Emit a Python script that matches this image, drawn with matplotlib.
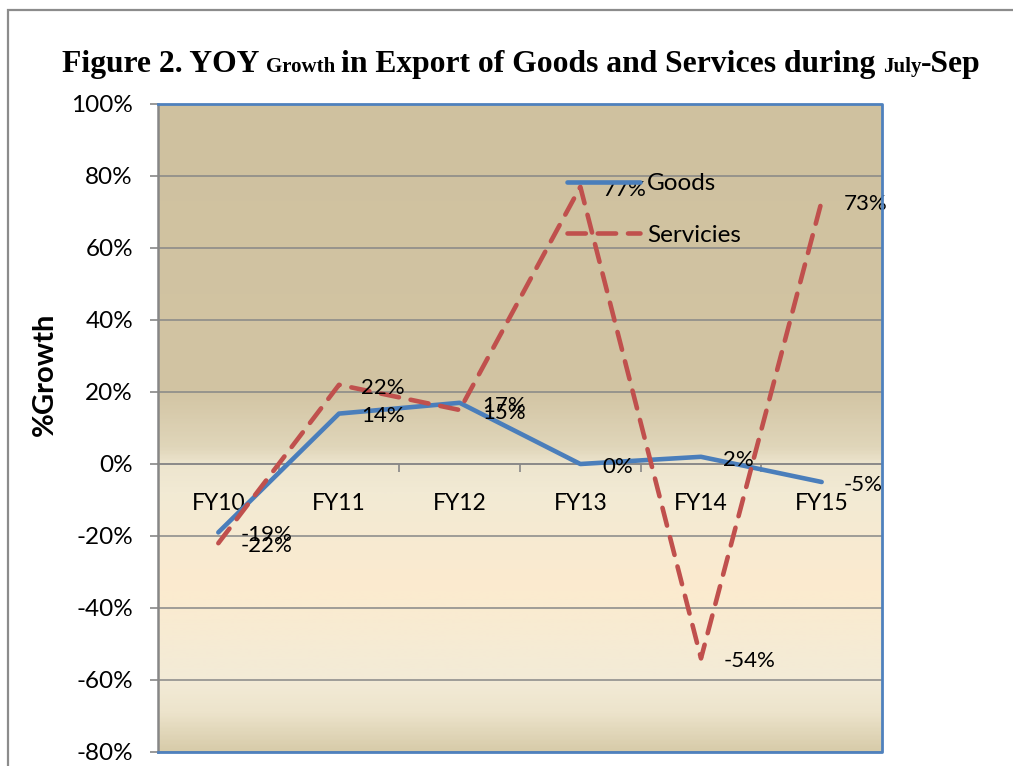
import numpy as np
import matplotlib
matplotlib.use("Agg")
import matplotlib.pyplot as plt
from matplotlib.colors import LinearSegmentedColormap
from matplotlib.patches import Rectangle
import matplotlib.ticker as ticker

# data
years = ["FY10", "FY11", "FY12", "FY13", "FY14", "FY15"]
goods = [-19, 14, 17, 0, 2, -5]
services = [-22, 22, 15, 77, -54, 73]

plt.rcParams["font.family"] = ["Lato", "DejaVu Sans"]

fig = plt.figure(figsize=(10.13, 7.66), dpi=100)
ax = fig.add_axes([158 / 1013, 14 / 766, 724 / 1013, 648 / 766])

# gradient plot background (Excel style fill)
stops = [(0.0, "#D8CCAA"), (0.06, "#EDE4CC"), (0.11, "#F3EBD7"), (0.25, "#FCEBCF"),
         (0.40, "#F2EAD4"), (0.444, "#EDE5CE"), (0.47, "#E0D6BA"), (0.56, "#D2C4A3"),
         (1.0, "#CFC19F")]
cmap = LinearSegmentedColormap.from_list("bg", stops)
grad = np.linspace(1, 0, 400).reshape(-1, 1)
ax.imshow(grad, cmap=cmap, extent=[-0.5, 5.5, -80, 100], aspect="auto", zorder=0,
          interpolation="bilinear", vmin=0, vmax=1)

x = np.arange(len(years))
ax.plot(x, goods, color="#4A7EBB", lw=3.3, solid_capstyle="round",
        solid_joinstyle="round", label="Goods", zorder=3)
ax.plot(x, services, color="#C0504D", lw=3.3, dashes=(4.0, 2.6),
        dash_capstyle="round", dash_joinstyle="round", label="Servicies", zorder=4)

# data labels
for xi, v in zip(x, goods):
    ax.annotate(f"{v}%", (xi, v), xytext=(16, -2), textcoords="offset points",
                ha="left", va="center", fontsize=16, zorder=5)
for xi, v in zip(x, services):
    ax.annotate(f"{v}%", (xi, v), xytext=(16, -2), textcoords="offset points",
                ha="left", va="center", fontsize=16, zorder=5)

ax.set_xlim(-0.5, 5.5)
ax.set_ylim(-80, 100)
ax.set_yticks(np.arange(-80, 101, 20))
ax.yaxis.set_major_formatter(ticker.FuncFormatter(lambda v, p: f"{v:.0f}%"))
ax.yaxis.grid(True, color="#878787", lw=1.1, zorder=1)
ax.set_axisbelow(False)
for gl in ax.get_ygridlines():
    gl.set_zorder(1)
ax.tick_params(axis="y", direction="out", length=6, width=1.2, color="#878787",
               pad=12, labelsize=17.5)

# category axis crossing at zero
ax.spines["bottom"].set_position(("data", 0))
ax.spines["bottom"].set_color("#878787")
ax.spines["bottom"].set_linewidth(1.1)
ax.set_xticks(np.arange(0.5, 5, 1))
ax.set_xticklabels([])
ax.set_xticks(x, minor=True)
ax.set_xticklabels(years, minor=True)
ax.tick_params(axis="x", which="major", direction="out", length=6, width=1.2,
               color="#878787")
ax.tick_params(axis="x", which="minor", length=0, pad=21, labelsize=16.5)

ax.spines["left"].set_color("#878787")
ax.spines["left"].set_linewidth(1.8)
for s in ["top", "right"]:
    ax.spines[s].set_visible(False)
blue = "#4F81BD"
ax.plot([0, 1, 1, 0], [1, 1, 0, 0], transform=ax.transAxes, color=blue, lw=2,
        clip_on=False, zorder=6)

ax.set_ylabel("%Growth", fontsize=21, fontweight="bold")
ax.yaxis.set_label_coords(-0.138, 0.583)

leg = ax.legend(loc="upper left", bbox_to_anchor=(0.565, 0.893), frameon=False,
                fontsize=17.5, handlelength=3.0, handletextpad=0.3, labelspacing=1.25,
                borderpad=0, borderaxespad=0)

# outer chart frame
fig.add_artist(Rectangle((8 / 1013, -0.1), 1.2, 1.1 - 10 / 766, transform=fig.transFigure,
                         fill=False, edgecolor="#8C8C8C", lw=1.6, clip_on=False))

# title with mixed sizes, pieces laid end to end on one baseline
pieces = [("Figure 2. YOY ", 22.8), ("Growth ", 15), ("in Export of Goods and Services during ", 22.8),
          ("July", 15), ("-Sep", 22.8)]
base_y = 1 - 72 / 766
prev = fig.text(62 / 1013, base_y, pieces[0][0], fontsize=pieces[0][1], fontweight="bold",
                family="Liberation Serif", va="baseline", ha="left")
for txt, size in pieces[1:]:
    prev = ax.annotate(txt, xy=(1, base_y), xycoords=(prev, "figure fraction"),
                       fontsize=size, fontweight="bold", family="Liberation Serif",
                       va="baseline", ha="left", annotation_clip=False)

fig.savefig("out.png", dpi=100)
